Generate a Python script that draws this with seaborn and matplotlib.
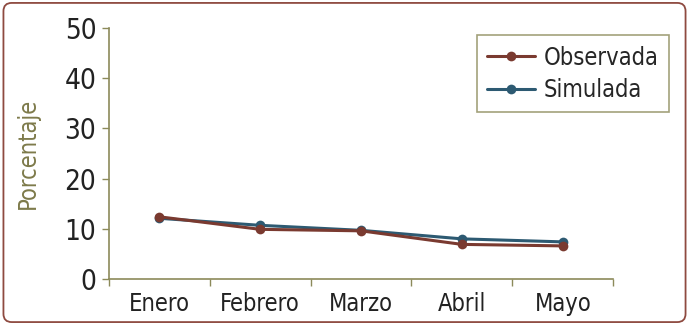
import matplotlib
matplotlib.use("Agg")
import matplotlib.pyplot as plt
from matplotlib.patches import FancyBboxPatch
from matplotlib.ticker import FixedLocator, NullFormatter
import seaborn as sns
import pandas as pd

meses = ["Enero", "Febrero", "Marzo", "Abril", "Mayo"]
observada = [12.4, 9.9, 9.6, 6.9, 6.6]
simulada = [12.1, 10.7, 9.7, 8.0, 7.4]
y_ticks = [0, 10, 20, 30, 40, 50]

sns.set_theme(style="white")
plt.rcParams["font.family"] = ["DejaVu Sans"]
plt.rcParams["font.stretch"] = "condensed"

c_obs = "#7a3a30"
c_sim = "#2d5a72"
c_axis = "#8c8a5a"
c_frame = "#8e4a40"

fig = plt.figure(figsize=(6.89, 3.25), dpi=100)
ax = fig.add_axes([0.158, 0.1415, 0.732, 0.772])

df = pd.DataFrame({"mes": list(range(len(meses))) * 2,
                   "valor": observada + simulada,
                   "serie": ["Observada"] * len(meses) + ["Simulada"] * len(meses)})

sns.lineplot(data=df[df.serie == "Simulada"], x="mes", y="valor", color=c_sim,
             marker="o", markersize=7, linewidth=2.2, markeredgewidth=0,
             label="Simulada", ax=ax, zorder=3)
sns.lineplot(data=df[df.serie == "Observada"], x="mes", y="valor", color=c_obs,
             marker="o", markersize=7, linewidth=2.2, markeredgewidth=0,
             label="Observada", ax=ax, zorder=4)

ax.set_xlim(-0.5, len(meses) - 0.5)
ax.set_ylim(0, 50)
ax.set_yticks(y_ticks)
ax.set_yticklabels([str(t) for t in y_ticks], fontsize=20, color="#222222")
ax.set_xticks(range(len(meses)))
ax.set_xticklabels(meses, fontsize=17, color="#222222")
ax.tick_params(axis="x", which="major", length=0, pad=9)
ax.xaxis.set_minor_locator(FixedLocator([i - 0.5 for i in range(len(meses) + 1)]))
ax.xaxis.set_minor_formatter(NullFormatter())
ax.tick_params(axis="x", which="minor", length=5, width=1, color=c_axis, bottom=True)
ax.tick_params(axis="y", length=5, width=1, color=c_axis, left=True, pad=4)

ax.set_xlabel("")
ax.set_ylabel("Porcentaje", fontsize=17, color="#7d7a4a", labelpad=18)

for s in ["top", "right"]:
    ax.spines[s].set_visible(False)
for s in ["left", "bottom"]:
    ax.spines[s].set_color(c_axis)
    ax.spines[s].set_linewidth(1.2)

handles, labels = ax.get_legend_handles_labels()
order = [labels.index("Observada"), labels.index("Simulada")]
leg = ax.legend([handles[i] for i in order], [labels[i] for i in order],
                loc="upper right", bbox_to_anchor=(1.135, 1.02), fontsize=17,
                frameon=True, fancybox=False, handlelength=2.0, handletextpad=0.4,
                borderpad=0.45, labelspacing=0.35)
leg.get_frame().set_edgecolor(c_axis)
leg.get_frame().set_linewidth(1.2)

frame = FancyBboxPatch((0.005, 0.009), 0.99, 0.982, boxstyle="round,pad=0,rounding_size=0.012",
                       transform=fig.transFigure, fill=False, edgecolor=c_frame,
                       linewidth=1.3, mutation_aspect=689 / 325)
fig.patches.append(frame)

fig.savefig("out.png", dpi=100)
